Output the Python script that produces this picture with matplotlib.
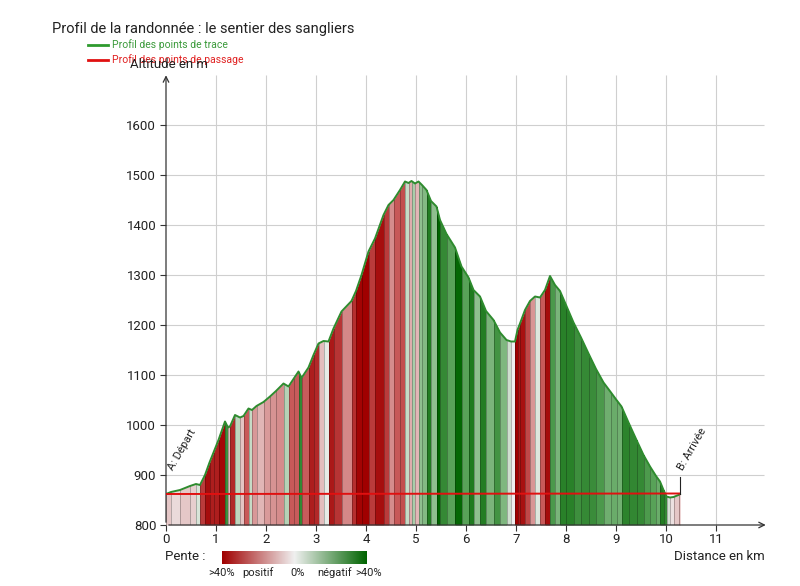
import numpy as np
import matplotlib.pyplot as plt
from matplotlib.colors import LinearSegmentedColormap

plt.rcParams['font.family'] = ['Roboto', 'DejaVu Sans']

# profil des points de trace (km, m)
dist = [0.00, 0.10, 0.28, 0.48, 0.60, 0.68, 0.78, 0.87, 0.95, 1.05, 1.18, 1.24, 1.28,
        1.38, 1.48, 1.55, 1.65, 1.72, 1.81, 1.95, 2.08, 2.20, 2.35, 2.45, 2.55, 2.65,
        2.71, 2.85, 2.95, 3.05, 3.15, 3.25, 3.35, 3.51, 3.71, 3.80, 3.91, 4.05, 4.18,
        4.35, 4.45, 4.55, 4.68, 4.78, 4.85, 4.91, 4.98, 5.05, 5.12, 5.21, 5.30, 5.41,
        5.48, 5.61, 5.78, 5.91, 6.05, 6.15, 6.28, 6.40, 6.55, 6.68, 6.81, 6.90, 6.98,
        7.03, 7.08, 7.18, 7.28, 7.38, 7.48, 7.58, 7.68, 7.78, 7.88, 8.00, 8.15, 8.30,
        8.45, 8.60, 8.75, 8.90, 9.01, 9.11, 9.25, 9.41, 9.55, 9.68, 9.80, 9.88, 9.95,
        10.01, 10.08, 10.15, 10.25, 10.28]
alt = [862, 866, 870, 878, 882, 880, 900, 925, 945, 970, 1007, 995, 997,
       1020, 1015, 1018, 1033, 1030, 1038, 1046, 1057, 1068, 1083, 1077, 1092, 1107,
       1094, 1115, 1140, 1163, 1168, 1167, 1193, 1227, 1248, 1268, 1300, 1347, 1373,
       1420, 1440, 1450, 1470, 1487, 1484, 1488, 1483, 1487, 1480, 1470, 1448, 1437,
       1410, 1382, 1355, 1317, 1295, 1270, 1257, 1228, 1210, 1185, 1170, 1167, 1167,
       1190, 1203, 1230, 1248, 1257, 1255, 1270, 1298, 1280, 1268, 1240, 1205, 1175,
       1143, 1112, 1085, 1065, 1050, 1037, 1005, 970, 940, 917, 898, 887, 870,
       857, 855, 856, 860, 862]

# profil des points de passage
pass_dist = [0.0, 10.28]
pass_alt = [862, 863]
pass_labels = ['A: Départ', 'B: Arrivée']

x_ticks = list(range(0, 12))
y_ticks = list(range(800, 1700, 100))

cmap = LinearSegmentedColormap.from_list(
    'pente', ['#a00000', '#c85a5a', '#f0f0f0', '#5ea65e', '#006400'])

fig = plt.figure(figsize=(8, 5.86), dpi=100)
ax = fig.add_axes([166 / 800, 61 / 586, 600 / 800, 450 / 586])
ax.set_xlim(0, 12)
ax.set_ylim(800, 1700)
for s in ax.spines.values():
    s.set_visible(False)

# grille
ax.vlines(range(1, 12), 800, 1700, color='#cfcfcf', lw=0.8, zorder=0)
ax.hlines(range(900, 1700, 100), 0, 11.95, color='#cfcfcf', lw=0.8, zorder=0)

# bandes colorees selon la pente
for i in range(len(dist) - 1):
    x0, x1 = dist[i], dist[i + 1]
    slope = (alt[i + 1] - alt[i]) / ((x1 - x0) * 1000)
    v = 0.5 - np.clip(slope / 0.3, -1, 1) * 0.5
    c = cmap(v)
    dark = tuple(np.array(c[:3]) * 0.75)
    ax.fill_between([x0, x1], 800, [alt[i], alt[i + 1]], color=c, lw=0, zorder=1)
    ax.plot([x0, x0], [800, alt[i]], color=dark, lw=0.7, zorder=1)

ax.plot(dist, alt, color='#2e8b2e', lw=1.4, zorder=3)
ax.plot(pass_dist, pass_alt, color='#e01010', lw=1.4, zorder=4)

# axes avec fleches
ax.annotate('', xy=(12.05, 800), xytext=(0, 800),
            arrowprops=dict(arrowstyle='->', color='#333333', lw=0.9), annotation_clip=False)
ax.annotate('', xy=(0, 1705), xytext=(0, 800),
            arrowprops=dict(arrowstyle='->', color='#333333', lw=0.9), annotation_clip=False)
ax.set_xticks(x_ticks)
ax.set_yticks(y_ticks)
ax.tick_params(length=4, width=0.8, color='#333333', labelsize=9.5, labelcolor='#222222')
ax.tick_params(axis='y', pad=3)
ax.tick_params(axis='x', pad=2)

# etiquettes des points de passage
ax.text(0.18, 906, pass_labels[0], rotation=60, rotation_mode='anchor',
        ha='left', va='bottom', fontsize=8, color='#222222')
ax.plot([pass_dist[1], pass_dist[1]], [pass_alt[1], 897], color='#222222', lw=0.8, zorder=4)
ax.text(10.38, 906, pass_labels[1], rotation=60, rotation_mode='anchor',
        ha='left', va='bottom', fontsize=8, color='#222222')

# textes
fig.text(52 / 800, 1 - 29 / 586, 'Profil de la randonnée : le sentier des sangliers',
         fontsize=10.5, va='center', ha='left', color='#222222')
fig.add_artist(plt.Line2D([88 / 800, 108 / 800], [1 - 45 / 586] * 2, color='#2e9a2e', lw=2))
fig.text(112 / 800, 1 - 45 / 586, 'Profil des points de trace', fontsize=7.5,
         va='center', color='#3a9a3a')
fig.add_artist(plt.Line2D([88 / 800, 108 / 800], [1 - 60 / 586] * 2, color='#e01010', lw=2))
fig.text(112 / 800, 1 - 60 / 586, 'Profil des points de passage', fontsize=7.5,
         va='center', color='#e02020')
fig.text(130 / 800, 1 - 64 / 586, 'Altitude en m', fontsize=9.5, va='center', color='#222222')
fig.text(765 / 800, 1 - 556 / 586, 'Distance en km', fontsize=9.5, va='center',
         ha='right', color='#222222')

# legende de la pente
fig.text(165 / 800, 1 - 557 / 586, 'Pente :', fontsize=9.5, va='center', color='#222222')
cax = fig.add_axes([222 / 800, 1 - 564 / 586, 145 / 800, 13 / 586])
cax.imshow(np.linspace(0, 1, 256)[None, :], aspect='auto',
           cmap=LinearSegmentedColormap.from_list('leg', ['#a00000', '#f0f0f0', '#006400']))
cax.axis('off')
for px, lab in [(222, '>40%'), (258, 'positif'), (298, '0%'), (335, 'négatif'), (369, '>40%')]:
    fig.text(px / 800, 1 - 573 / 586, lab, fontsize=8, va='center', ha='center',
             color='#222222')

fig.savefig('out.png', dpi=100)
